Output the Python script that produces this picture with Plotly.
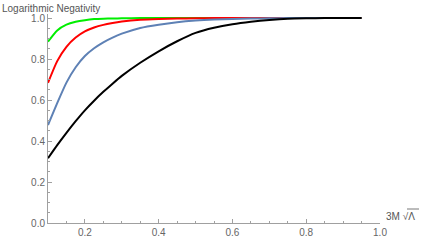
import plotly.graph_objects as go

x_vals = [0.10, 0.125, 0.15, 0.175, 0.20, 0.225, 0.25, 0.275, 0.30, 0.35, 0.40, 0.45, 0.50,
          0.55, 0.60, 0.65, 0.70, 0.75, 0.80, 0.85, 0.90, 0.95]

black_vals = [0.316, 0.38, 0.44, 0.497, 0.55, 0.597, 0.64, 0.68, 0.718, 0.782, 0.838, 0.887, 0.928,
              0.953, 0.970, 0.982, 0.991, 0.997, 0.999, 1.0, 1.0, 1.0]
blue_vals = [0.478, 0.585, 0.685, 0.76, 0.815, 0.853, 0.882, 0.905, 0.924, 0.952, 0.968, 0.980, 0.988,
             0.993, 0.996, 0.998, 0.999, 1.0, 1.0, 1.0, 1.0, 1.0]
red_vals = [0.684, 0.79, 0.86, 0.905, 0.935, 0.954, 0.967, 0.976, 0.983, 0.992, 0.996, 0.998, 0.999,
            1.0, 1.0, 1.0, 1.0, 1.0, 1.0, 1.0, 1.0, 1.0]
green_vals = [0.885, 0.94, 0.968, 0.982, 0.990, 0.995, 0.997, 0.998, 0.999, 1.0, 1.0, 1.0, 1.0,
              1.0, 1.0, 1.0, 1.0, 1.0, 1.0, 1.0, 1.0, 1.0]

series = [
    ("green", green_vals, "#00ee00"),
    ("red", red_vals, "#ff0000"),
    ("blue", blue_vals, "#5e81b5"),
    ("black", black_vals, "#000000"),
]

fig = go.Figure()
for name, vals, col in series:
    fig.add_trace(go.Scatter(x=x_vals, y=vals, mode="lines", name=name,
                             line=dict(color=col, width=2, shape="spline", smoothing=0.6),
                             cliponaxis=False, hoverinfo="skip"))

axis_col = "#a0a0a0"
font_fam = "Liberation Sans, Arial, sans-serif"
tick_font = dict(family=font_fam, size=10, color="#666666")

L, R, T, B = 48, 45, 14, 17
W, H = 425, 240
pw, ph = W - L - R, H - T - B


def px(xp):
    return (xp - L) / pw


def py(yp):
    return (H - B - yp) / ph


fig.update_layout(
    width=W, height=H,
    margin=dict(l=L, r=R, t=T, b=B, autoexpand=False),
    paper_bgcolor="white", plot_bgcolor="white",
    showlegend=False,
    xaxis=dict(range=[0.1, 1.0], tick0=0, dtick=0.2, tickformat=".1f", automargin=False,
               showgrid=False, zeroline=False, showline=True, linecolor=axis_col,
               linewidth=1, ticks="inside", ticklen=4, tickcolor=axis_col,
               tickfont=tick_font,
               minor=dict(dtick=0.05, tick0=0, ticks="inside", ticklen=2, tickcolor=axis_col)),
    yaxis=dict(range=[0, 1.02], tick0=0, dtick=0.2, tickformat=".1f", automargin=False,
               showgrid=False, zeroline=False, showline=True, linecolor=axis_col,
               linewidth=1, ticks="inside", ticklen=4, tickcolor=axis_col,
               tickfont=tick_font,
               minor=dict(dtick=0.05, tick0=0, ticks="inside", ticklen=2, tickcolor=axis_col)),
    annotations=[
        dict(text="Logarithmic Negativity", xref="paper", yref="paper",
             x=px(0), y=py(8), xanchor="left", yanchor="middle",
             showarrow=False, font=dict(family=font_fam, size=10, color="#555555")),
        dict(text="3M √Λ", xref="paper", yref="paper",
             x=px(384), y=py(216), xanchor="left", yanchor="middle",
             showarrow=False, font=dict(family=font_fam, size=10, color="#555555")),
    ],
    shapes=[
        dict(type="line", xref="paper", yref="paper",
             x0=px(407), x1=px(419), y0=py(209), y1=py(209),
             line=dict(color="#555555", width=0.8)),
    ],
)

fig.write_html("out.html", config={"displayModeBar": False, "staticPlot": True},
               post_script="document.body.style.margin='0';document.body.style.overflow='hidden';")
